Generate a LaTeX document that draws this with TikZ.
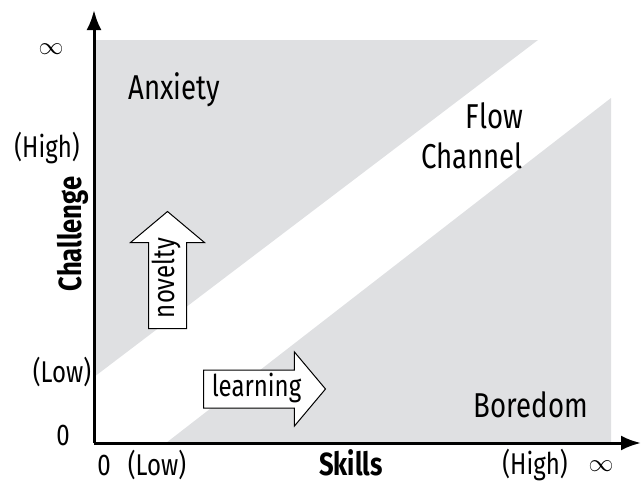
\documentclass[tikz,border=0pt]{standalone}
\usepackage{fontspec}
\setmainfont{Fira Sans}[FakeStretch=0.8]
\usetikzlibrary{shapes.arrows, arrows.meta, positioning}
\definecolor{zonegray}{HTML}{DFE0E2}
\tikzstyle{zone} = [fill=zonegray, draw=none]
\tikzstyle{axis} = [line width=3pt, -{Latex[length=20pt,width=15pt]}]
\tikzstyle{tick} = [font=\fontsize{30}{34}\selectfont, inner sep=0pt]
\tikzstyle{region} = [font=\fontsize{34.5}{40}\selectfont, align=center]
\tikzstyle{axislabel} = [font=\fontsize{32}{36}\selectfont\bfseries, inner sep=0pt]
\tikzstyle{push} = [single arrow, draw=black, fill=white, line width=1pt, single arrow head extend=18pt, single arrow tip angle=100, text height=20pt, text depth=6pt, inner ysep=5.5pt, font=\fontsize{30}{34}\selectfont]

\begin{document}
\begin{tikzpicture}[x=1pt, y=-1pt]
\useasboundingbox (0,0) rectangle (642,482);

% zones above and below the channel
\draw [zone] (94,40) -- (538,40) -- (94,377) -- cycle;
\draw [zone] (166,443) -- (611,98) -- (611,443) -- cycle;

% axes
\coordinate (origin) at (94,443);
\coordinate (ytip) at (94,10);
\coordinate (xtip) at (641,443);
\draw [axis] (origin) -- (ytip);
\draw [axis] (origin) -- (xtip);

% challenge ticks
\node (yinf) [tick] at (51,49) {$\infty$};
\node (yhigh) [tick] at (47,148) {(High)};
\node (ylow) [tick] at (62,372) {(Low)};
\node (yzero) [tick] at (63,435) {0};
\node (challenge) [axislabel, rotate=90] at (73,234) {Challenge};

% skill ticks
\node (xzero) [tick] at (104,465) {0};
\node (xlow) [tick] at (157,465) {(Low)};
\node (xhigh) [tick] at (535,465) {(High)};
\node (xinf) [tick] at (601,466) {$\infty$};
\node (skills) [axislabel] at (351,463) {Skills};

% regions
\node (anxiety) [region] at (174,90) {Anxiety};
\node (flow) [region, align=right] at (472,136) {Flow\hspace{7pt}\\Channel};
\node (boredom) [region] at (531,405) {Boredom};

% pushes
\node (novelty) [push, rotate=90, minimum height=117pt, anchor=tail] at (167.5,329) {novelty};
\node (learning) [push, minimum height=122pt, anchor=tail] at (203,389) {learning};
\end{tikzpicture}
\end{document}
